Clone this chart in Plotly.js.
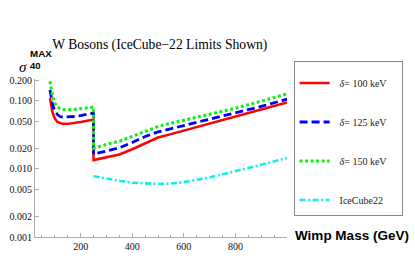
<!DOCTYPE html>
<html>
<head>
<meta charset="utf-8">
<script src="https://cdn.plot.ly/plotly-3.0.1.min.js"></script>
<style>html,body{margin:0;padding:0;background:#fff;}#chart{width:415px;height:259px;}</style>
</head>
<body>
<div id="chart"></div>
<script>
// WIMP mass (GeV)
const massW = [81, 85, 90, 95, 100, 110, 120, 130, 150, 175, 200, 225, 249.5, 250, 275, 300, 350, 400, 450, 500, 550, 600, 700, 800, 900, 1000];
const sigma100 = [0.110, 0.085, 0.070, 0.061, 0.055, 0.049, 0.047, 0.046, 0.046, 0.047, 0.049, 0.051, 0.053, 0.0135, 0.0142, 0.0150, 0.0163, 0.0195, 0.0240, 0.0290, 0.0325, 0.0365, 0.0465, 0.0590, 0.0750, 0.0950];
const sigma125 = [0.145, 0.115, 0.094, 0.080, 0.071, 0.063, 0.059, 0.058, 0.058, 0.059, 0.061, 0.063, 0.066, 0.0165, 0.0175, 0.0185, 0.0205, 0.0245, 0.0300, 0.0350, 0.0390, 0.0430, 0.0530, 0.0660, 0.0830, 0.1060];
const sigma150 = [0.195, 0.155, 0.124, 0.105, 0.093, 0.082, 0.077, 0.075, 0.074, 0.075, 0.077, 0.079, 0.081, 0.0200, 0.0215, 0.0230, 0.0255, 0.0300, 0.0360, 0.0420, 0.0470, 0.0520, 0.0630, 0.0780, 0.0990, 0.1270];
const massIC = [250, 300, 350, 400, 450, 500, 550, 600, 700, 800, 900, 1000];
const sigmaIC = [0.0078, 0.0072, 0.0067, 0.0063, 0.0061, 0.0060, 0.0061, 0.0064, 0.0075, 0.0092, 0.0115, 0.0145];
const seriesNames = ['<i>δ</i>= 100 keV', '<i>δ</i>= 125 keV', '<i>δ</i>= 150 keV', 'IceCube22'];
const yTickVals = [0.001, 0.002, 0.005, 0.010, 0.020, 0.050, 0.100, 0.200];
const yTickText = ['0.001', '0.002', '0.005', '0.010', '0.020', '0.050', '0.100', '0.200'];
const xTickVals = [200, 400, 600, 800];
const xTickText = ['200', '400', '600', '800'];

// legend label padding (left / right) so the box matches the reference width
const padL = '\u00a0\u00a0';
const padR = '\u00a0'.repeat(4);
const legendLabel = s => padL + s + padR;

const traces = [
  {x: massW, y: sigma100, name: legendLabel(seriesNames[0]), legendgroup: 'a', mode: 'lines',
   line: {color: '#ff0000', width: 2.5}},
  {x: massW, y: sigma125, name: legendLabel(seriesNames[1]), legendgroup: 'b', mode: 'lines',
   line: {color: '#0000ff', width: 2.8, dash: '8px,4px'}},
  {x: massW, y: sigma150, name: legendLabel(seriesNames[2]), legendgroup: 'c', mode: 'lines',
   line: {color: '#11ee11', width: 3, dash: '3px,2.5px'}},
  {x: massIC, y: sigmaIC, name: legendLabel(seriesNames[3]), legendgroup: 'd', mode: 'lines',
   line: {color: '#11eeee', width: 2.6, dash: '6px,2.5px,2px,2.5px'}}
];

const serif = 'Liberation Serif, Times New Roman, serif';
const sans = 'Liberation Sans, Arial, sans-serif';

const layout = {
  width: 415, height: 259,
  margin: {l: 35, r: 127.6, t: 79, b: 22, pad: 0, autoexpand: false},
  paper_bgcolor: '#fff', plot_bgcolor: '#fff',
  showlegend: true,
  title: {text: 'W Bosons (IceCube\u221222 Limits Shown)', font: {family: serif, size: 13.6, color: '#000'},
          x: 0.495, xanchor: 'center', xref: 'paper', y: 1 - 44.5/259, yanchor: 'middle', yref: 'container'},
  xaxis: {
    type: 'linear', range: [23, 1000], showgrid: false, zeroline: false, automargin: false,
    showline: true, linecolor: '#aaaaaa', linewidth: 1,
    ticks: 'inside', ticklen: 4, tickcolor: '#aaaaaa', tickwidth: 1,
    tickvals: xTickVals, ticktext: xTickText,
    minor: {dtick: 50, tick0: 0, ticks: 'inside', ticklen: 2, tickcolor: '#aaaaaa', showgrid: false},
    tickfont: {family: serif, size: 10, color: '#111'}
  },
  yaxis: {
    type: 'log', range: [-3, Math.log10(0.21)], showgrid: false, zeroline: false, automargin: false,
    showline: true, linecolor: '#aaaaaa', linewidth: 1,
    ticks: 'inside', ticklen: 4, tickcolor: '#aaaaaa', tickwidth: 1,
    tickvals: yTickVals, ticktext: yTickText,
    tickfont: {family: serif, size: 10, color: '#111'}
  },
  legend: {
    x: (294 - 35) / 252.4, y: (237 - 61) / 158, xanchor: 'left', yanchor: 'top',
    bordercolor: '#888888', borderwidth: 1, bgcolor: '#ffffff',
    font: {family: serif, size: 10, color: '#222'},
    title: {text: '\u00a0', font: {family: serif, size: 5}},
    tracegroupgap: 20, itemwidth: 30, maxheight: 250
  },
  annotations: [
    {text: '<i>σ</i>', xref: 'paper', yref: 'paper', x: (22.5 - 35) / 252.4, y: (237 - 67) / 158,
     xanchor: 'center', yanchor: 'middle', showarrow: false, font: {family: serif, size: 15, color: '#000'}},
    {text: '<b>MAX</b>', xref: 'paper', yref: 'paper', x: (27.5 - 35) / 252.4, y: (237 - 53) / 158,
     xanchor: 'left', yanchor: 'middle', showarrow: false, font: {family: sans, size: 9.8, color: '#000'}},
    {text: '<b>40</b>', xref: 'paper', yref: 'paper', x: (27.5 - 35) / 252.4, y: (237 - 65.5) / 158,
     xanchor: 'left', yanchor: 'middle', showarrow: false, font: {family: sans, size: 9.5, color: '#000'}},
    {text: '<b>Wimp Mass (GeV)</b>', xref: 'paper', yref: 'paper', x: (352.5 - 35) / 252.4, y: (237 - 235) / 158,
     xanchor: 'center', yanchor: 'middle', showarrow: false, font: {family: sans, size: 13.5, color: '#000'}}
  ]
};

Plotly.newPlot('chart', traces, layout, {staticPlot: true, displayModeBar: false});
</script>
</body>
</html>
